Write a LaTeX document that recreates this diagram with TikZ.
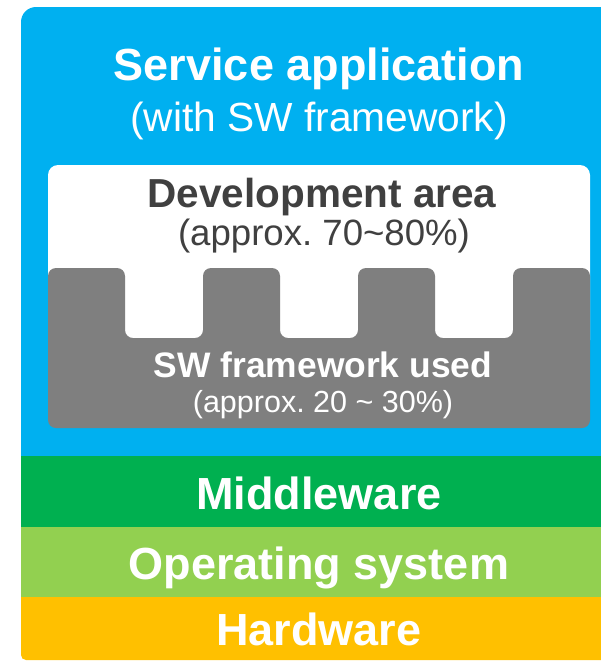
\documentclass[tikz,border=0pt]{standalone}
\usepackage{fontspec}
\setmainfont{Liberation Sans}
\usepackage{tikz}
\usetikzlibrary{positioning}
\frenchspacing
\tikzset{
    %Define standard text styles
    every node/.style={anchor=base, inner sep=0pt},
    headtext/.style={font=\bfseries\fontsize{45}{50}\selectfont, text=white},
    subtext/.style={font=\fontsize{40.7}{46}\selectfont, text=white},
    devtext/.style={font=\bfseries\fontsize{40.5}{46}\selectfont, text=darktext},
    devsub/.style={font=\fontsize{36.6}{42}\selectfont, text=darktext},
    fwtext/.style={font=\bfseries\fontsize{35.4}{40}\selectfont, text=white},
    fwsub/.style={font=\fontsize{30.5}{35}\selectfont, text=white},
    bandtext/.style={font=\bfseries\fontsize{45}{50}\selectfont, text=white}
}
\definecolor{appblue}{RGB}{0,176,240}
\definecolor{mwgreen}{RGB}{0,176,80}
\definecolor{osgreen}{RGB}{146,208,80}
\definecolor{hwyellow}{RGB}{255,192,0}
\definecolor{fwgray}{RGB}{127,127,127}
\definecolor{darktext}{RGB}{64,64,64}
\def\sLayer#1#2#3#4#5#6{
    \fill[#1] (21,#2) rectangle (640,#3);
    \node[bandtext] (#4) at (319,#5) {#6};
}

\begin{document}
\begin{tikzpicture}[x=1pt,y=-1pt]
    \useasboundingbox (0,0) rectangle (601,662);
    \clip (0,0) rectangle (601,662);
    % service application
    \fill[appblue, rounded corners=15] (21,7) rectangle (640,480);
    \node[headtext] (svc) at (319,80) {Service application};
    \node[subtext] (svcsub) at (319,131) {(with SW framework)};
    % development area and framework comb
    \fill[white, rounded corners=10] (48,165) rectangle (590,350);
    \fill[fwgray, rounded corners=8] (48,428) -- (48,268)
        \foreach \x in {125,280,435}{ -- (\x,268) -- (\x,338) -- (\x+78,338) -- (\x+78,268) }
        -- (590,268) -- (590,428) -- cycle;
    \node[devtext] (dev) at (322,207) {Development area};
    \node[devsub] (devpct) at (324,245) {(approx. 70\textasciitilde 80\%)};
    \node[fwtext] (fw) at (323,377) {SW framework used};
    \node[fwsub] (fwpct) at (323,412) {(approx. 20 \textasciitilde{} 30\%)};
    % lower layers
    \sLayer{hwyellow, rounded corners=5}{560}{660}{hw}{645}{Hardware}
    \sLayer{osgreen}{527}{597}{os}{579}{Operating system}
    \sLayer{mwgreen}{456}{527}{mw}{509}{Middleware}
\end{tikzpicture}
\end{document}
